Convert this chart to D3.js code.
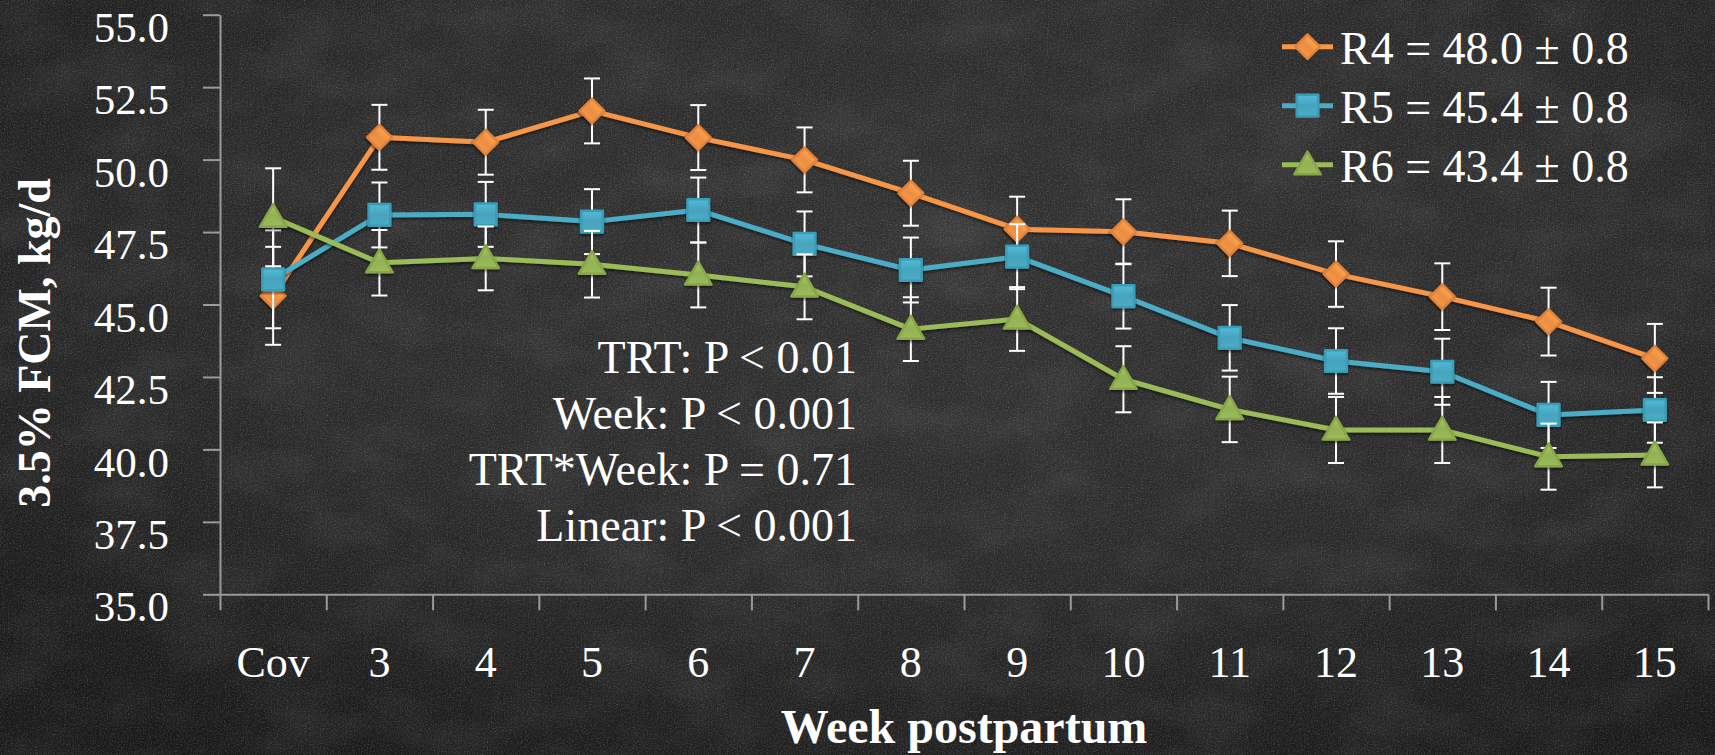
<!DOCTYPE html>
<html>
<head>
<meta charset="utf-8">
<script src="https://cdn.jsdelivr.net/npm/d3@7"></script>
<style>
  html, body { margin: 0; padding: 0; background: #252525; }
  svg { display: block; }
  text { font-family: "Liberation Serif", "DejaVu Serif", serif; fill: #ffffff; }
</style>
</head>
<body>
<svg id="chart" width="1715" height="755"></svg>
<script>
// Weeks postpartum (Cov = covariate period)
const categories = ["Cov", "3", "4", "5", "6", "7", "8", "9", "10", "11", "12", "13", "14", "15"];

// 3.5% FCM, kg/d, by treatment
const r4Values = [45.30, 50.77, 50.60, 51.68, 50.76, 49.99, 48.84, 47.60, 47.51, 47.11, 46.05, 45.27, 44.41, 43.14];
const r5Values = [45.87, 48.09, 48.11, 47.86, 48.26, 47.09, 46.19, 46.65, 45.29, 43.85, 43.05, 42.68, 41.19, 41.36];
const r6Values = [48.01, 46.44, 46.59, 46.39, 46.02, 45.61, 44.15, 44.50, 42.42, 41.38, 40.67, 40.67, 39.75, 39.81];

// Standard errors
const r4Errors = [1.69, 1.12, 1.12, 1.12, 1.12, 1.12, 1.12, 1.12, 1.12, 1.13, 1.13, 1.15, 1.17, 1.19];
const r5Errors = [1.69, 1.12, 1.12, 1.12, 1.12, 1.12, 1.12, 1.12, 1.12, 1.13, 1.13, 1.14, 1.14, 1.13];
const r6Errors = [1.69, 1.13, 1.10, 1.15, 1.12, 1.12, 1.10, 1.10, 1.14, 1.13, 1.14, 1.14, 1.14, 1.12];

const seriesNames = ["R4", "R5", "R6"];
const seriesLabels = ["R4 = 48.0 ± 0.8", "R5 = 45.4 ± 0.8", "R6 = 43.4 ± 0.8"];
const yTicks = [35, 37.5, 40, 42.5, 45, 47.5, 50, 52.5, 55];
const statLines = ["TRT: P < 0.01", "Week: P < 0.001", "TRT*Week: P = 0.71", "Linear: P < 0.001"];

const colors = ["#F79646", "#4BACC6", "#9BBB59"];
const strokes = ["#E0823A", "#3A9CB6", "#86A648"];
// diamond = square turned 45°, then square, then triangle
const symbols = [d3.symbolSquare, d3.symbolSquare, d3.symbolTriangle];
const symbolRotation = [45, 0, 0];
const symbolSizes = [300, 470, 300];

const svg = d3.select("#chart");
const W = 1715, H = 755;
const plotLeft = 220, plotRight = 1708, plotTop = 14.7, plotBottom = 594.3;

// ---- chalkboard background ----
const defs = svg.append("defs");
const vign = defs.append("radialGradient").attr("id", "vign")
  .attr("cx", "55%").attr("cy", "35%").attr("r", "75%");
vign.append("stop").attr("offset", "0%").attr("stop-color", "#313131");
vign.append("stop").attr("offset", "55%").attr("stop-color", "#2a2a2a");
vign.append("stop").attr("offset", "100%").attr("stop-color", "#191919");

const grain = defs.append("filter").attr("id", "grain")
  .attr("x", 0).attr("y", 0).attr("width", "100%").attr("height", "100%");
grain.append("feTurbulence").attr("type", "fractalNoise")
  .attr("baseFrequency", "0.7").attr("numOctaves", 2).attr("seed", 3);
grain.append("feColorMatrix").attr("type", "matrix")
  .attr("values", "0 0 0 0 1  0 0 0 0 1  0 0 0 0 1  0.18 0.18 0.18 0 -0.24");

const smudge = defs.append("filter").attr("id", "smudge")
  .attr("x", 0).attr("y", 0).attr("width", "100%").attr("height", "100%");
smudge.append("feTurbulence").attr("type", "fractalNoise")
  .attr("baseFrequency", "0.012 0.02").attr("numOctaves", 3).attr("seed", 11);
smudge.append("feColorMatrix").attr("type", "matrix")
  .attr("values", "0 0 0 0 1  0 0 0 0 1  0 0 0 0 1  0.12 0 0 0 -0.05");

const shadow = defs.append("filter").attr("id", "shadow")
  .attr("x", "-10%").attr("y", "-10%").attr("width", "120%").attr("height", "130%");
shadow.append("feDropShadow").attr("dx", 0).attr("dy", 2).attr("stdDeviation", 1.6)
  .attr("flood-color", "#000").attr("flood-opacity", 0.55);

colors.forEach((c, i) => {
  const g = defs.append("linearGradient").attr("id", "mk" + i)
    .attr("x1", 0).attr("y1", 0).attr("x2", 0).attr("y2", 1);
  g.append("stop").attr("offset", "0%").attr("stop-color", d3.color(c).brighter(0.25));
  g.append("stop").attr("offset", "50%").attr("stop-color", d3.color(c).darker(0.15));
  g.append("stop").attr("offset", "100%").attr("stop-color", c);
});

svg.append("rect").attr("width", W).attr("height", H).attr("fill", "url(#vign)");
svg.append("rect").attr("width", W).attr("height", H).attr("filter", "url(#smudge)");
svg.append("rect").attr("width", W).attr("height", H).attr("filter", "url(#grain)");

// ---- scales ----
const x = d3.scaleBand().domain(categories).range([plotLeft, plotRight]).padding(0);
const xEdge = d3.scaleLinear().domain([0, categories.length]).range([plotLeft, plotRight]);
const y = d3.scaleLinear().domain([35, 55]).range([plotBottom, plotTop]);
const cx = c => x(c) + x.bandwidth() / 2;

// ---- axes ----
const axisColor = "#9a9a9a";

const yAxis = svg.append("g").attr("transform", `translate(${plotLeft},0)`)
  .call(d3.axisLeft(y).tickValues(yTicks).tickFormat(d3.format(".1f"))
    .tickSize(17).tickSizeOuter(0).tickPadding(34));
yAxis.selectAll("path, line").attr("stroke", axisColor).attr("stroke-width", 2);
yAxis.selectAll("text").attr("font-size", 43).attr("fill", "#fff")
  .attr("font-family", "Liberation Serif, serif").attr("dy", "0.62em");

const xTicks = svg.append("g").attr("transform", `translate(0,${plotBottom})`)
  .call(d3.axisBottom(xEdge).tickValues(d3.range(categories.length + 1))
    .tickFormat("").tickSize(16).tickSizeOuter(0));
xTicks.selectAll("path, line").attr("stroke", axisColor).attr("stroke-width", 2);

const xLabels = svg.append("g").attr("transform", `translate(0,${plotBottom})`)
  .call(d3.axisBottom(x).tickSize(0).tickSizeOuter(0));
xLabels.select("path").remove();
xLabels.selectAll("text").attr("font-size", 44).attr("fill", "#fff")
  .attr("font-family", "Liberation Serif, serif")
  .attr("y", 83).attr("dy", 0);

// axis titles
svg.append("text").attr("x", (plotLeft + plotRight) / 2).attr("y", 743)
  .attr("text-anchor", "middle").attr("font-size", 48).attr("font-weight", "bold")
  .text("Week postpartum");
svg.append("text").attr("transform", "translate(50,343) rotate(-90)")
  .attr("text-anchor", "middle").attr("font-size", 46).attr("font-weight", "bold")
  .text("3.5% FCM, kg/d");

// ---- series ----
const series = [
  { values: r4Values, errors: r4Errors },
  { values: r5Values, errors: r5Errors },
  { values: r6Values, errors: r6Errors }
];
const capHalf = 8;
const markerTransform = (si, px, py) =>
  `translate(${px},${py + (si === 2 ? 2 : 0)}) rotate(${symbolRotation[si]})`;

series.forEach((s, si) => {
  const pts = categories.map((c, i) => ({ c, v: s.values[i], e: s.errors[i] }));
  const g = svg.append("g").attr("class", "series-" + seriesNames[si]);

  // error bars
  const eb = g.append("g").attr("stroke", "#ffffff").attr("stroke-width", 2);
  pts.forEach(p => {
    const xx = cx(p.c);
    eb.append("line").attr("x1", xx).attr("x2", xx).attr("y1", y(p.v + p.e)).attr("y2", y(p.v - p.e));
    eb.append("line").attr("x1", xx - capHalf).attr("x2", xx + capHalf).attr("y1", y(p.v + p.e)).attr("y2", y(p.v + p.e));
    eb.append("line").attr("x1", xx - capHalf).attr("x2", xx + capHalf).attr("y1", y(p.v - p.e)).attr("y2", y(p.v - p.e));
  });

  // line
  g.append("path").datum(pts)
    .attr("fill", "none").attr("stroke", colors[si]).attr("stroke-width", 5)
    .attr("stroke-linejoin", "round").attr("filter", "url(#shadow)")
    .attr("d", d3.line().x(p => cx(p.c)).y(p => y(p.v)));

  // markers
  g.selectAll("path.mk").data(pts).join("path").attr("class", "mk")
    .attr("transform", p => markerTransform(si, cx(p.c), y(p.v)))
    .attr("d", d3.symbol().type(symbols[si]).size(symbolSizes[si]))
    .attr("fill", `url(#mk${si})`).attr("stroke", strokes[si]).attr("stroke-width", 2.5)
    .attr("stroke-linejoin", "round").attr("filter", "url(#shadow)");
});

// ---- legend ----
const legend = svg.append("g");
seriesLabels.forEach((lab, i) => {
  const ly = 46.7 + i * 59;
  legend.append("line").attr("x1", 1282).attr("x2", 1333).attr("y1", ly).attr("y2", ly)
    .attr("stroke", colors[i]).attr("stroke-width", 5);
  legend.append("path").attr("transform", markerTransform(i, 1307.5, ly))
    .attr("d", d3.symbol().type(symbols[i]).size(symbolSizes[i]))
    .attr("fill", `url(#mk${i})`).attr("stroke", strokes[i]).attr("stroke-width", 2.5)
    .attr("stroke-linejoin", "round");
  legend.append("text").attr("x", 1340).attr("y", ly + 17).attr("font-size", 46).text(lab);
});

// ---- model statistics ----
statLines.forEach((t, i) => {
  svg.append("text").attr("x", 857).attr("y", 372.7 + i * 56)
    .attr("text-anchor", "end").attr("font-size", 46).text(t);
});
</script>
</body>
</html>
